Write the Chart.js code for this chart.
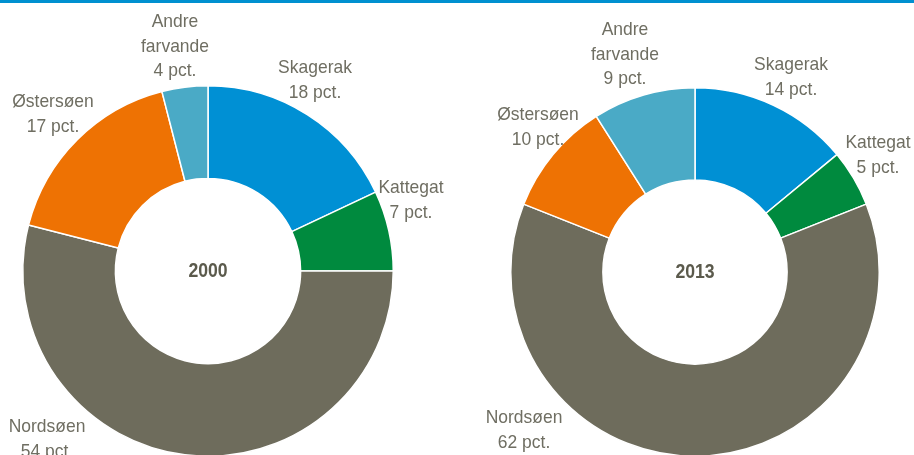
<!DOCTYPE html>
<html>
<head>
<meta charset="utf-8">
<script src="https://cdn.jsdelivr.net/npm/chart.js@4.4.1/dist/chart.umd.min.js"></script>
<style>
  html, body { margin: 0; padding: 0; background: #fff; overflow: hidden; }
  #wrap { position: relative; width: 914px; height: 455px; overflow: hidden; }
  .topline { position: absolute; left: 0; top: 0; width: 914px; height: 3px; background: #0090d0; }
  .box { position: absolute; top: 0; width: 457px; height: 542px; }
</style>
</head>
<body>
<div id="wrap">
  <div class="topline"></div>
  <div class="box" style="left:0"><canvas id="pie2000"></canvas></div>
  <div class="box" style="left:457px"><canvas id="pie2013"></canvas></div>
</div>
<script>
const categories = ['Skagerak', 'Kattegat', 'Nordsøen', 'Østersøen', 'Andre farvande'];
const labelLines = [['Skagerak'], ['Kattegat'], ['Nordsøen'], ['Østersøen'], ['Andre', 'farvande']];
const years = ['2000', '2013'];
const values2000 = [18, 7, 54, 17, 4];
const values2013 = [14, 5, 62, 10, 9];
const colors = ['#0090d4', '#008a3e', '#6e6c5c', '#ee7203', '#4aaac6'];

const textColor = '#6f6e62';
const font = '"Liberation Sans", Arial, sans-serif';

// where each label block sits (centre x, y of first line) within its canvas
const labelPos2000 = [[315, 68], [411, 188], [47, 427], [53, 102], [175, 22]];
const labelPos2013 = [[334, 65], [421, 143], [67, 418], [81, 115], [168, 30]];

// narrow text: the reference uses a condensed face, squeeze a regular one
function narrowText(c, t, x, y, sx) {
    c.save();
    c.translate(x, y);
    c.scale(sx, 1);
    c.fillText(t, 0, 0);
    c.restore();
}

const labelPlugin = {
    id: 'sliceLabels',
    afterDraw(chart, args, opts) {
        const c = chart.ctx;
        const ds = chart.data.datasets[0];
        c.save();
        c.textAlign = 'center';
        c.textBaseline = 'middle';
        c.fillStyle = textColor;
        c.font = '19px ' + font;
        chart.data.labels.forEach((lab, i) => {
            const lines = labelLines[i].concat([ds.data[i] + ' pct.']);
            const [x, y] = opts.positions[i];
            lines.forEach((t, k) => narrowText(c, t, x, y + k * 24.5, 0.92));
        });
        const arc = chart.getDatasetMeta(0).data[0];
        c.fillStyle = '#5b5a4c';
        c.font = 'bold 21px ' + font;
        narrowText(c, opts.title, arc.x, arc.y, 0.84);
        c.restore();
    }
};

function makeChart(id, values, title, positions, padding) {
    return new Chart(document.getElementById(id).getContext('2d'), {
        type: 'doughnut',
        data: {
            labels: categories,
            datasets: [{
                data: values,
                backgroundColor: colors,
                borderColor: '#ffffff',
                borderWidth: 1.5
            }]
        },
        options: {
            responsive: true,
            maintainAspectRatio: false,
            devicePixelRatio: 1,
            animation: false,
            cutout: '50%',
            layout: { padding: padding },
            plugins: {
                legend: { display: false },
                tooltip: { enabled: false },
                sliceLabels: { positions: positions, title: title }
            }
        },
        plugins: [labelPlugin]
    });
}

makeChart('pie2000', values2000, years[0], labelPos2000, { left: 22, right: 63, top: 85, bottom: 85 });
makeChart('pie2013', values2013, years[1], labelPos2013, { left: 53, right: 34, top: 87, bottom: 85 });
</script>
</body>
</html>
